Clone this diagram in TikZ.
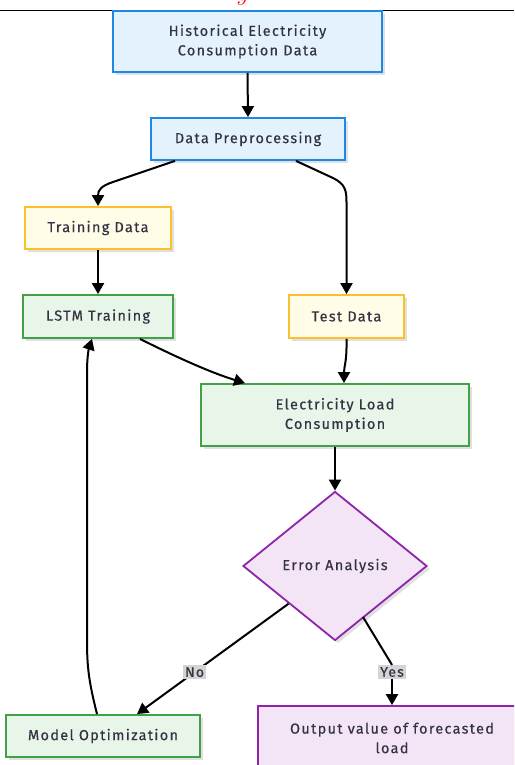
\documentclass[tikz,border=0pt]{standalone}
\usepackage{fontspec}
\setmainfont{Fira Sans}[LetterSpace=9, FakeBold=0.4]
\usetikzlibrary{arrows.meta,shapes.geometric,shadows}
\definecolor{txt}{HTML}{333344}
\definecolor{bfill}{HTML}{E3F2FD}\definecolor{bdraw}{HTML}{1E88E5}
\definecolor{yfill}{HTML}{FFFDE7}\definecolor{ydraw}{HTML}{FBC02D}
\definecolor{gfill}{HTML}{E8F5E9}\definecolor{gdraw}{HTML}{43A047}
\definecolor{pfill}{HTML}{F3E5F5}\definecolor{pdraw}{HTML}{8E24AA}
\definecolor{lblbg}{HTML}{D4D4D4}
\begin{document}
\begin{tikzpicture}[x=1pt,y=-1pt,
  base/.style={draw, line width=1.8pt, text=txt, align=center, inner sep=0pt,
    font=\fontsize{14.5}{19.5}\selectfont,
    drop shadow={shadow xshift=3pt,shadow yshift=-3pt,opacity=0.12,fill=black}},
  bluebox/.style={base, fill=bfill, draw=bdraw},
  yelbox/.style={base, fill=yfill, draw=ydraw},
  grnbox/.style={base, fill=gfill, draw=gdraw},
  purbox/.style={base, fill=pfill, draw=pdraw},
  arr/.style={line width=2pt, -{Triangle[length=11pt,width=12pt]}},
  lbl/.style={fill=lblbg, text=txt, inner sep=2pt, font=\fontsize{14}{14}\selectfont}]
\useasboundingbox (0,0) rectangle (514,765);
\clip (0,0) rectangle (514,765);
\fill[white] (0,0) rectangle (514,765);
% top rule and clipped glyph
\begin{scope}
\clip (0,0) rectangle (514,10);
\node[red, font=\fontsize{26}{26}\selectfont, inner sep=0pt, anchor=base] (yglyph) at (243,1) {$y$};
\end{scope}
\draw[line width=0.9pt] (0,10) -- (514,10);
% nodes
\node[bluebox, minimum width=269pt, minimum height=61pt] (hist) at (247.5,41.5) {Historical Electricity\\Consumption Data};
\node[bluebox, minimum width=194pt, minimum height=42pt] (pp) at (248,139) {Data Preprocessing};
\node[yelbox, minimum width=146pt, minimum height=42pt] (td) at (98,228) {Training Data};
\node[grnbox, minimum width=150pt, minimum height=43pt] (lstm) at (98,316.5) {LSTM Training};
\node[yelbox, minimum width=115pt, minimum height=43pt] (test) at (346.5,316.5) {Test Data};
\node[grnbox, minimum width=268pt, minimum height=62pt] (elec) at (335,415) {Electricity Load\\Consumption};
\node[purbox, shape=diamond, minimum width=184pt, minimum height=149pt] (err) at (335,566) {Error Analysis};
\node[grnbox, minimum width=194pt, minimum height=42pt] (model) at (103,736) {Model Optimization};
\node[purbox, minimum width=268pt, minimum height=64pt] (out) at (392,738) {Output value of forecasted\\load};
% edges
\draw[arr] (hist.south) -- (pp.north);
\draw[arr] ([xshift=-73pt]pp.south) -- (113,182) .. controls (101,186) and (98,190) .. (td.north);
\draw[arr] ([xshift=48pt]pp.south) -- (333,178) .. controls (345,184) and (346.5,190) .. (346.5,202) -- (test.north);
\draw[arr] (td.south) -- (lstm.north);
\draw[arr] ([xshift=42pt]lstm.south) .. controls (178,358) and (212,373) .. ([xshift=-90pt]elec.north);
\draw[arr] (test.south) .. controls (347,362) and (344,366) .. ([xshift=9pt]elec.north);
\draw[arr] (elec.south) -- (err.north);
\draw[arr] (err.south west) -- node[lbl, pos=0.62] (no) {No} ([xshift=34pt]model.north);
\coordinate (ys) at (363,617);
\node[lbl] (yes) at (392,672) {Yes};
\draw[line width=2pt] (ys) -- (yes.north);
\draw[arr] (yes.south) -- (out.north);
\draw[arr] ([xshift=-6pt]model.north) .. controls (89,682) and (87,668) .. (87,640) -- (87,372) .. controls (87,356) and (89,348) .. ([xshift=-6pt]lstm.south);
\end{tikzpicture}
\end{document}
